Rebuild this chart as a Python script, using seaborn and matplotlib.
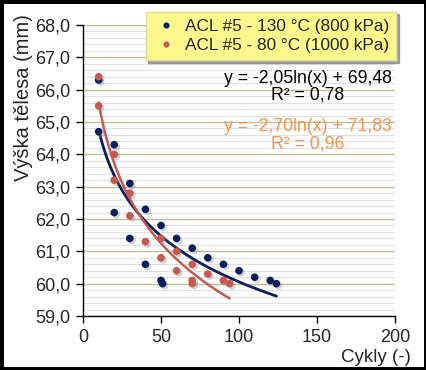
import numpy as np
import pandas as pd
import seaborn as sns
import matplotlib.pyplot as plt
import matplotlib.patheffects as pe
from matplotlib.patches import Rectangle
from matplotlib.ticker import FuncFormatter, MultipleLocator

# Data
cycles_130 = [10, 10, 20, 20, 30, 30, 40, 40, 50, 50, 51, 60, 70, 80, 90, 100, 110, 120, 124]
height_130 = [66.3, 64.7, 64.3, 62.2, 63.1, 61.4, 62.3, 60.6, 61.8, 60.1, 60.0, 61.4,
              61.1, 60.8, 60.6, 60.4, 60.2, 60.1, 60.0]
cycles_80 = [10, 10, 20, 20, 30, 30, 40, 50, 50, 60, 60, 70, 70, 70, 80, 90, 94]
height_80 = [66.4, 65.5, 64.0, 63.2, 62.8, 62.1, 61.3, 61.4, 60.8, 61.0, 60.4, 60.6,
             60.1, 60.0, 60.3, 60.1, 60.0]

labels = ['ACL #5 - 130 °C (800 kPa)', 'ACL #5 - 80 °C (1000 kPa)']
eq_texts = ['y = -2,05ln(x) + 69,48\nR² = 0,78', 'y = -2,70ln(x) + 71,83\nR² = 0,96']
x_ticks = [0, 50, 100, 150, 200]
y_ticks = [59, 60, 61, 62, 63, 64, 65, 66, 67, 68]

navy = '#0A1F5C'
red = '#C55A52'
orange = '#F0944F'

df = pd.concat([
    pd.DataFrame({'x': cycles_130, 'y': height_130, 'serie': labels[0]}),
    pd.DataFrame({'x': cycles_80, 'y': height_80, 'serie': labels[1]}),
])

sns.set_style('white')
plt.rcParams['font.family'] = ['Liberation Sans', 'DejaVu Sans']

fig = plt.figure(figsize=(4.27, 3.70), dpi=100)
ax = fig.add_axes([83 / 427, 1 - 316 / 370, 312 / 427, 291 / 370])

# grid: khaki major lines, pale minor lines
ax.yaxis.set_minor_locator(MultipleLocator(0.2))
ax.grid(axis='y', which='major', color='#C4BD97', lw=1.0, zorder=0)
ax.grid(axis='y', which='minor', color='#E2E2E2', lw=0.8, zorder=0)
ax.grid(axis='x', visible=False)

# trend lines (log fit)
sns.regplot(data=df[df.serie == labels[0]], x='x', y='y', logx=True, ci=None,
            scatter=False, color=navy, line_kws={'lw': 2.0}, ax=ax)
sns.regplot(data=df[df.serie == labels[1]], x='x', y='y', logx=True, ci=None,
            scatter=False, color=red, line_kws={'lw': 1.8}, ax=ax)

sns.scatterplot(data=df, x='x', y='y', hue='serie', palette=[navy, red],
                s=30, linewidth=0, ax=ax, zorder=3)
for coll in ax.collections:
    coll.set_path_effects([pe.SimplePatchShadow(offset=(1.5, -1.5), shadow_rgbFace='gray', alpha=0.35),
                           pe.Normal()])

ax.set_xlim(0, 200)
ax.set_ylim(59, 68)
ax.set_xticks(x_ticks)
ax.set_yticks(y_ticks)
ax.yaxis.set_major_formatter(FuncFormatter(lambda v, p: f'{v:.1f}'.replace('.', ',')))
ax.tick_params(axis='both', which='major', direction='out', length=5, width=1,
               color='black', labelsize=13, pad=4, bottom=True, left=True)
ax.tick_params(axis='y', which='minor', length=0)
sns.despine(ax=ax)
for s in ['left', 'bottom']:
    ax.spines[s].set_color('black')
    ax.spines[s].set_linewidth(1)

ax.set_xlabel('')
ax.set_ylabel('')
fig.text(24 / 427, 1 - 98 / 370, 'Výška tělesa (mm)', rotation=90, ha='center', va='center', fontsize=14.5)
fig.text(411 / 427, 1 - 358 / 370, 'Cykly (-)', ha='right', va='center', fontsize=13.5)

# trendline equations
fig.text(308 / 427, 1 - 87 / 370, eq_texts[0], ha='center', va='center', fontsize=12.7,
         color='black', linespacing=1.0)
fig.text(308 / 427, 1 - 135 / 370, eq_texts[1], ha='center', va='center', fontsize=12.7,
         color=orange, linespacing=1.0)

leg = ax.legend(loc='upper right', bbox_to_anchor=(405 / 427, 1 - 3 / 370),
                bbox_transform=fig.transFigure, frameon=True, fancybox=False,
                fontsize=12.4, handletextpad=0.3, handlelength=1.6, borderpad=0.4,
                labelspacing=0.25, markerscale=0.8, shadow={'color': '#555555', 'alpha': 0.5})
leg.get_frame().set_facecolor('#FCF88C')
leg.get_frame().set_edgecolor('#E0DCA0')
leg.get_frame().set_alpha(1)

fig.add_artist(Rectangle((0, 0), 1, 1, transform=fig.transFigure, fill=False,
                         lw=5, ec='black'))

fig.savefig('out.png', dpi=100)
